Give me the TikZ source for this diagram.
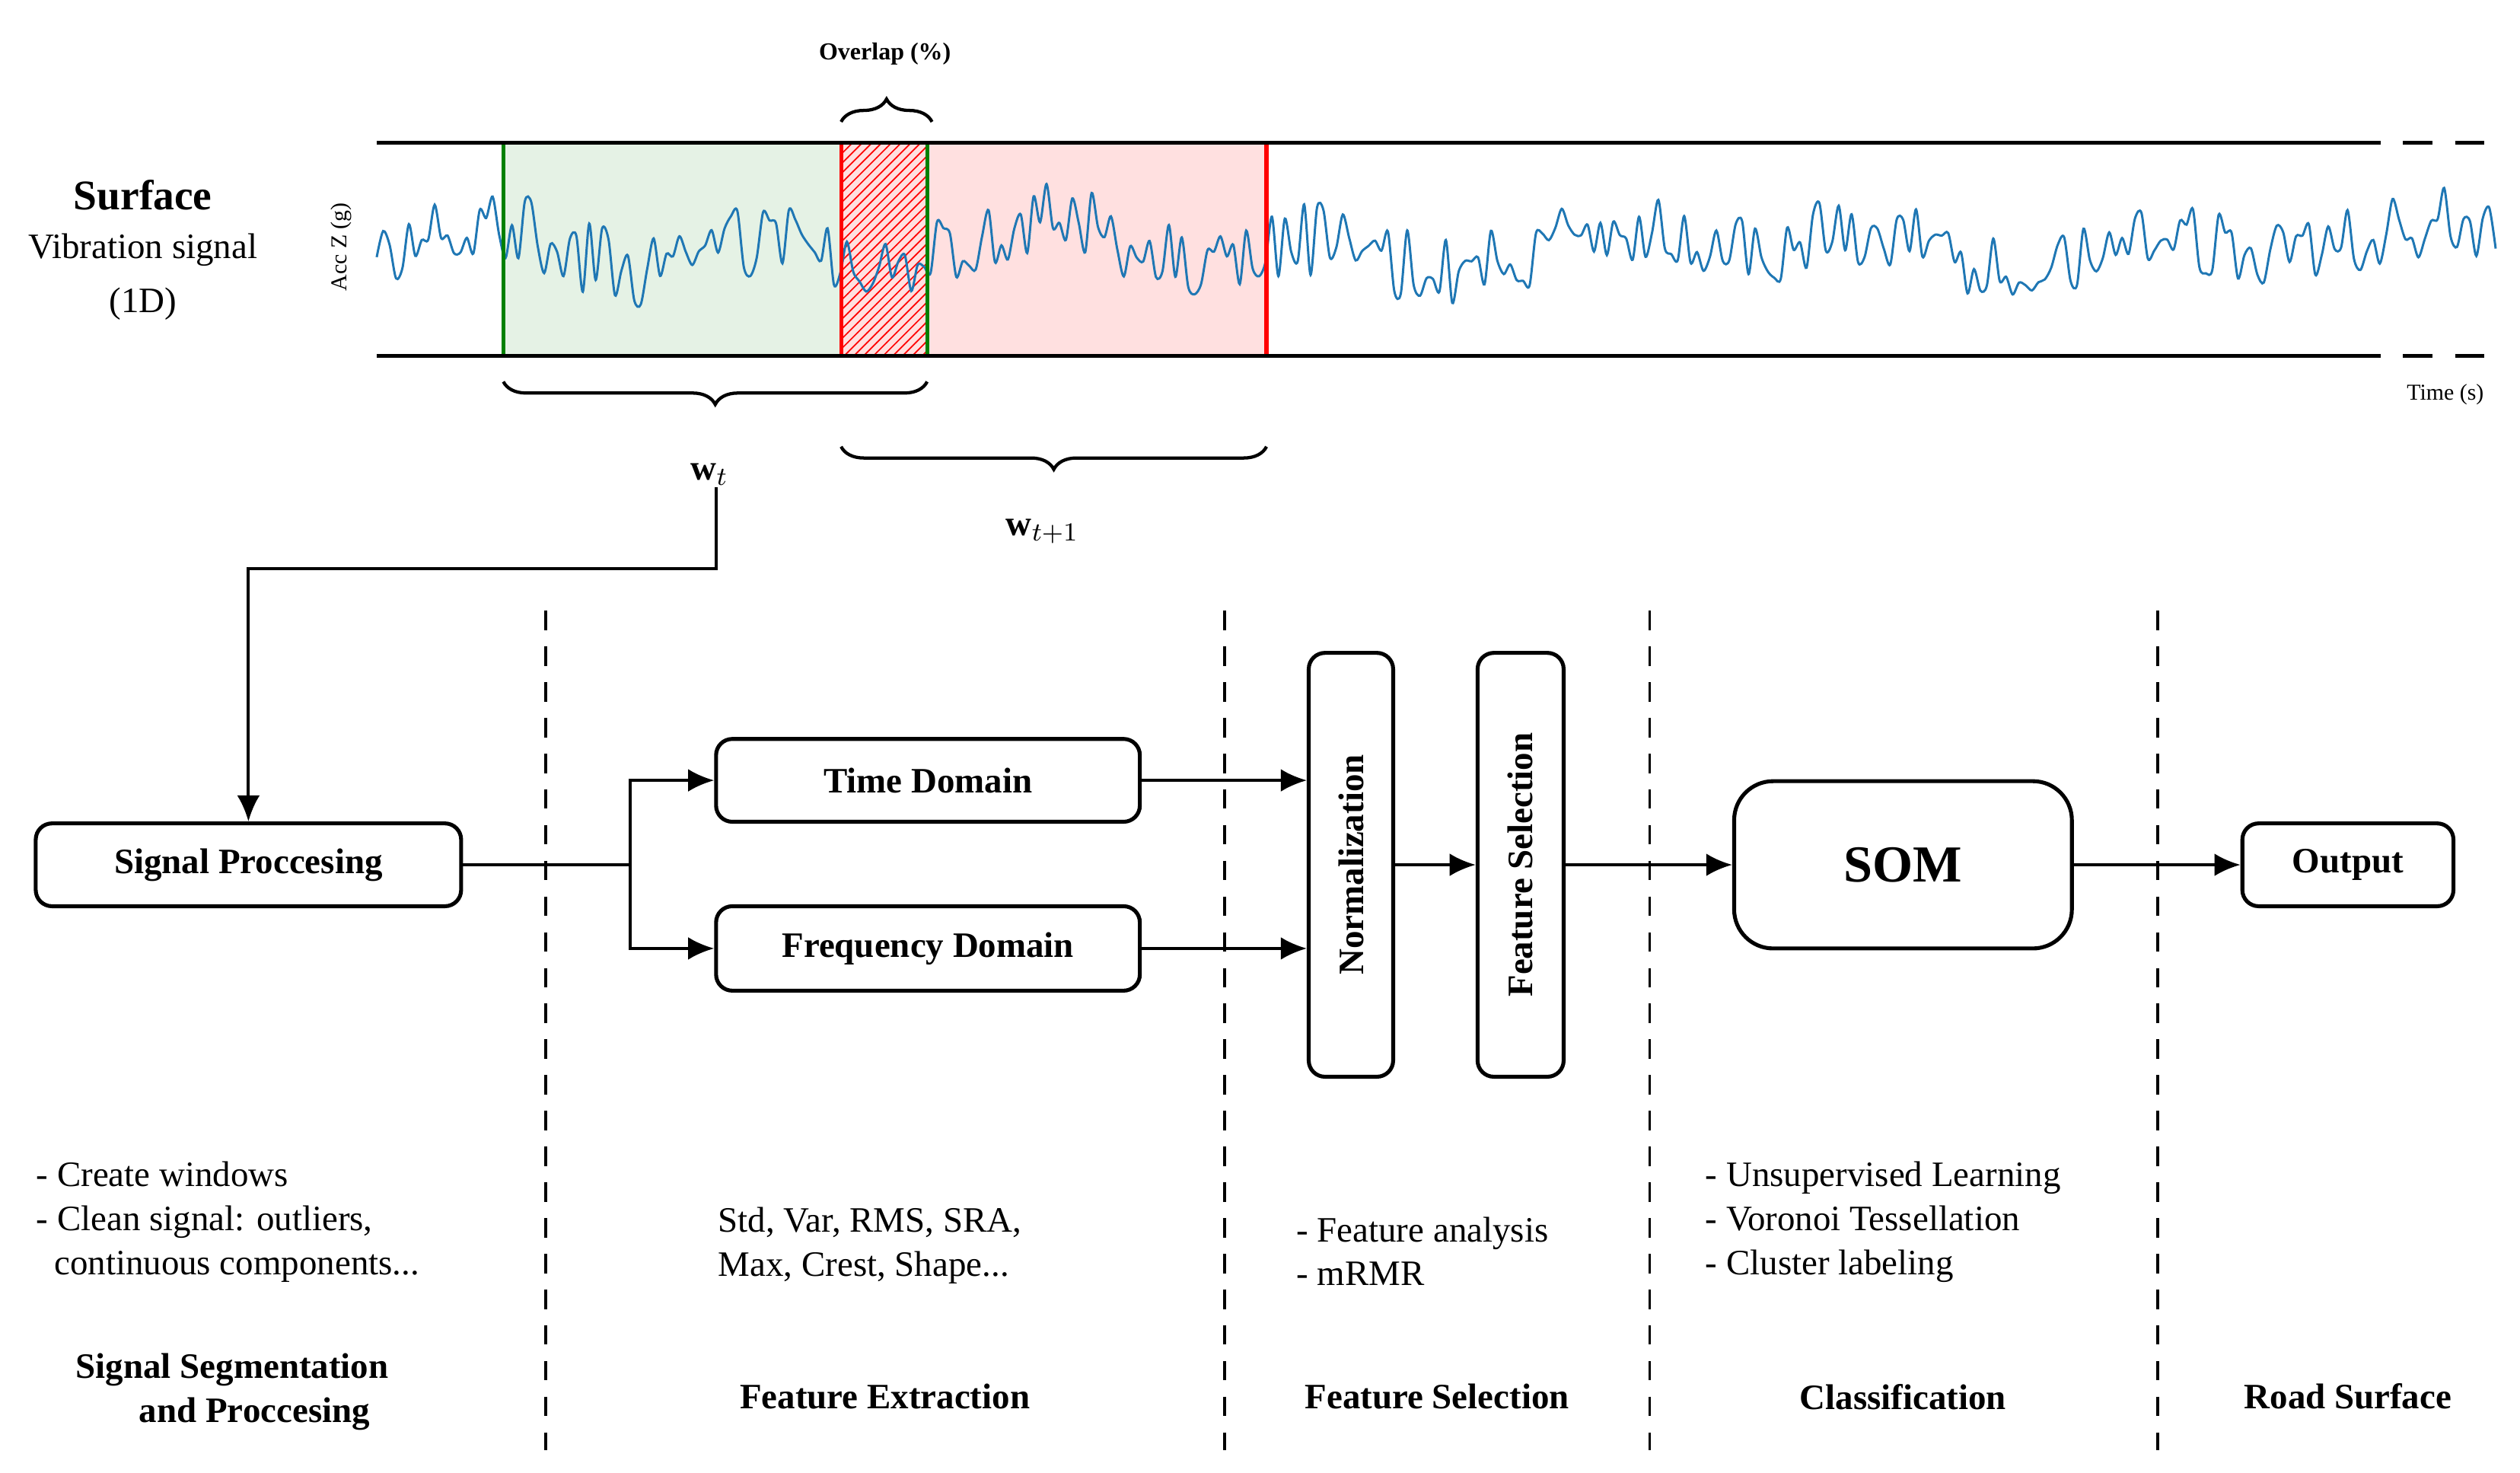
\documentclass[tikz,border=0pt]{standalone}
\usepackage{fontspec}
\setmainfont{Liberation Serif}
\usetikzlibrary{patterns,decorations.pathreplacing,arrows.meta}
\begin{document}
\begin{tikzpicture}[x=0.5pt,y=-0.5pt,
  box/.style={draw,line width=1.2pt,rounded corners=5pt,font=\bfseries\fontsize{11}{13}\selectfont,inner sep=0pt},
  arr/.style={line width=0.9pt,-{Latex[length=8pt,width=7pt]}},
  sep/.style={dashed,line width=0.9pt,dash pattern=on 6pt off 5pt},
  br/.style={decorate,decoration={brace,amplitude=7pt},line width=1pt},
  lst/.style={align=left,font=\fontsize{11}{13.5}\selectfont,anchor=north west,inner sep=0pt},
  hdr/.style={font=\bfseries\fontsize{11}{13.5}\selectfont,align=center}]
\useasboundingbox (0,0) rectangle (1552,907);
% signal band
\fill[green!50!black!10] (310,88) rectangle (571,219);
\fill[red!12] (518,88) rectangle (780,219);
\fill[pattern=north east lines,pattern color=red] (518,88) rectangle (571,219);
\pgfmathsetseed{7}
\draw[color={rgb,255:red,31;green,119;blue,180},line width=0.7pt] plot[domain=232:1537,samples=330,smooth]
  (\x,{152+10*sin(\x*2.1)+7*sin(\x*0.9+40)+22*rand});
\draw[green!50!black,line width=1.2pt] (310,88) rectangle (571,219);
\draw[red,line width=1.2pt] (518,88) rectangle (780,219);
\draw[line width=1.2pt] (232,88) -- (1448,88) (232,219) -- (1448,219);
\draw[line width=1.2pt,dashed,dash pattern=on 9pt off 7pt] (1448,88) -- (1540,88) (1448,219) -- (1540,219);
\node[font=\bfseries\fontsize{13}{15}\selectfont] (surf) at (88,120) {Surface};
\node[font=\fontsize{11}{13}\selectfont] (vib) at (88,154) {Vibration signal};
\node[font=\fontsize{11}{13}\selectfont] (oned) at (88,187) {(1D)};
\node[rotate=90,font=\fontsize{7}{8}\selectfont] (acc) at (210,152) {Acc Z (g)};
\node[font=\fontsize{7}{8}\selectfont] (time) at (1506,243) {Time (s)};
\draw[br] (518,75) -- (574,75);
\node[font=\bfseries\fontsize{7.5}{9}\selectfont] (ov) at (545,33) {Overlap (\%)};
\draw[br] (571,235) -- (310,235);
\node[font=\fontsize{11}{13}\selectfont] (wt) at (437,292) {$\mathbf{w}_t$};
\draw[br] (780,275) -- (518,275);
\node[font=\fontsize{11}{13}\selectfont] (wt1) at (642,327) {$\mathbf{w}_{t+1}$};
% dashed separators
\foreach \x in {336,754,1016,1329} \draw[sep] (\x,376) -- (\x,893);
% boxes
\node[box,minimum width=131pt,minimum height=25.5pt] (sp) at (153,532.5) {Signal Proccesing};
\node[box,minimum width=130.5pt,minimum height=25.5pt] (td) at (571.5,480.5) {Time Domain};
\node[box,minimum width=130.5pt,minimum height=26pt] (fd) at (571.5,584) {Frequency Domain};
\node[box,minimum width=26pt,minimum height=130.5pt] (nm) at (832,532.5) {};
\node[rotate=90,font=\bfseries\fontsize{11}{13}\selectfont] at (nm) {Normalization};
\node[box,minimum width=26.5pt,minimum height=130.5pt] (fs) at (936.5,532.5) {};
\node[rotate=90,font=\bfseries\fontsize{11}{13}\selectfont] at (fs) {Feature Selection};
\node[box,rounded corners=12pt,minimum width=104pt,minimum height=51.5pt,font=\bfseries\fontsize{16}{19}\selectfont] (som) at (1172,532.5) {SOM};
\node[box,minimum width=65pt,minimum height=25.5pt] (out) at (1446,532.5) {Output};
% connectors
\coordinate (c1) at (441,300);
\draw[arr] (c1) -- (441,350) -- (153,350) -- (sp.north);
\coordinate (split) at (388,532.5);
\draw[line width=0.9pt] (sp.east) -- (split);
\draw[arr] (split) |- (td.west);
\draw[arr] (split) |- (fd.west);
\draw[arr] (td.east) -- (td.east -| nm.west);
\draw[arr] (fd.east) -- (fd.east -| nm.west);
\draw[arr] (nm.east) -- (fs.west);
\draw[arr] (fs.east) -- (som.west);
\draw[arr] (som.east) -- (out.west);
% bottom texts
\node[lst] (l1) at (22,715) {- Create windows\\- Clean signal: outliers,\\\ \ continuous components...};
\node[lst] (l2) at (442,743) {Std, Var, RMS, SRA,\\Max, Crest, Shape...};
\node[lst] (l3) at (798,749) {- Feature analysis\\- mRMR};
\node[lst] (l4) at (1050,715) {- Unsupervised Learning\\- Voronoi Tessellation\\- Cluster labeling};
\node[hdr] (h1) at (143,857) {Signal Segmentation\\\ \ \ \ \ and Proccesing};
\node[hdr] (h2) at (545,860) {Feature Extraction};
\node[hdr] (h3) at (885,860) {Feature Selection};
\node[hdr] (h4) at (1172,860) {Classification};
\node[hdr] (h5) at (1446,860) {Road Surface};
\end{tikzpicture}
\end{document}
